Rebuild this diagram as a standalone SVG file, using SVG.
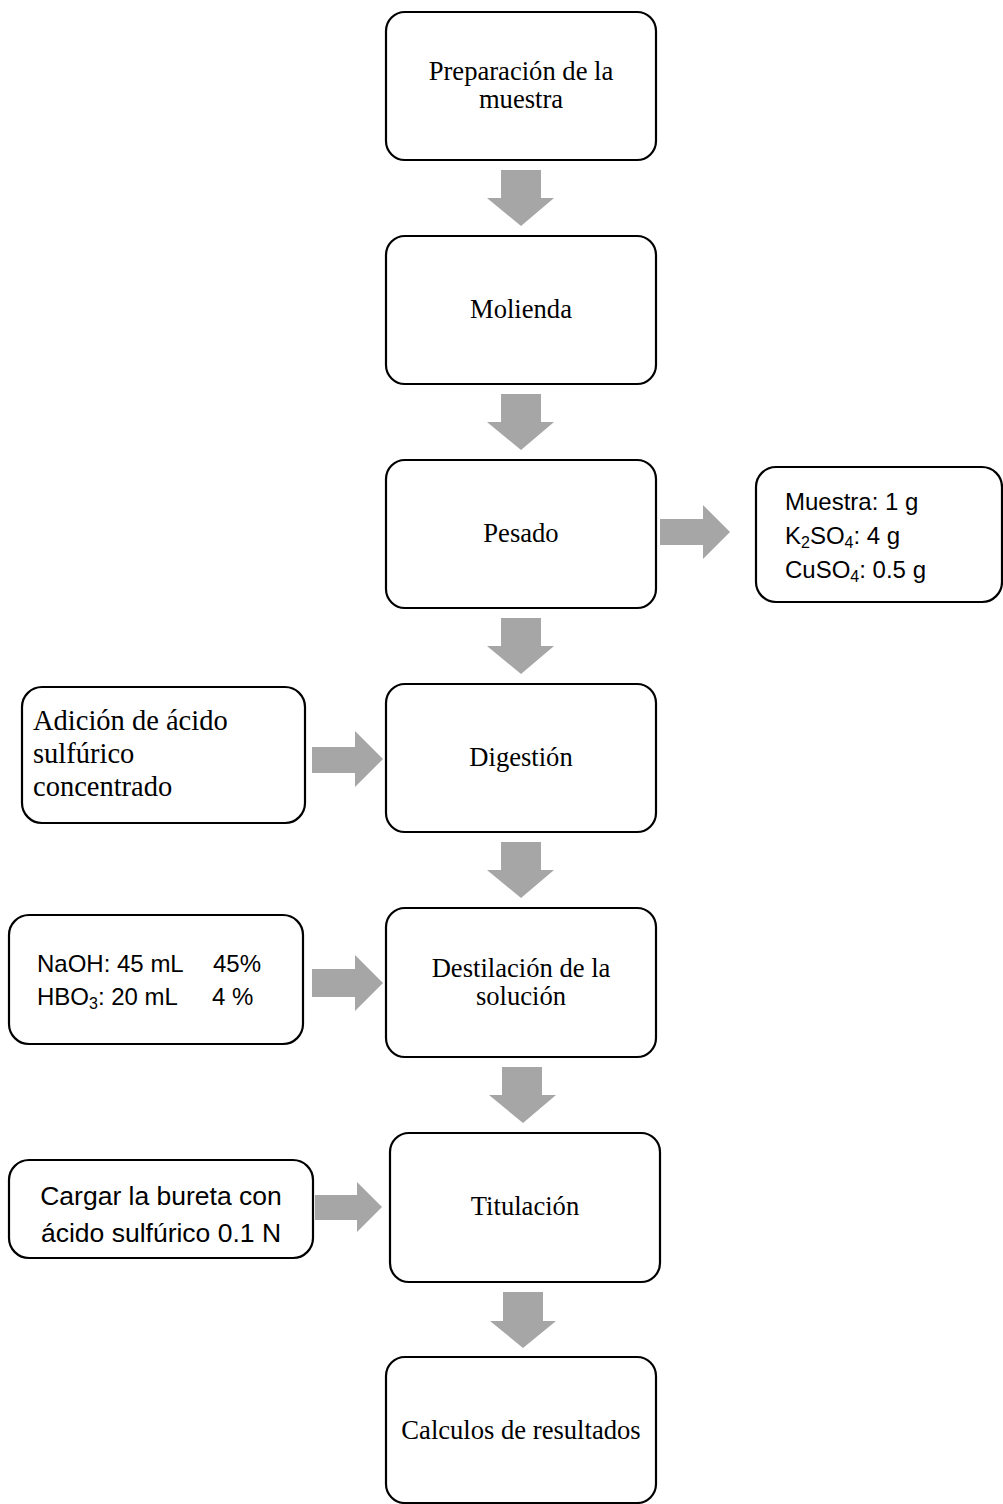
<svg xmlns="http://www.w3.org/2000/svg" width="1003" height="1504" viewBox="0 0 1003 1504">
  <style>
    .box { fill: #ffffff; stroke: #000000; stroke-width: 2.2; }
    .serif { font-family: "Liberation Serif", "Times New Roman", serif; font-size: 26.6px; fill: #000000; }
    .serif-lg { font-family: "Liberation Serif", "Times New Roman", serif; font-size: 28.5px; fill: #000000; }
    .sans { font-family: "Liberation Sans", Arial, sans-serif; font-size: 24px; fill: #000000; }
    .sans-lg { font-family: "Liberation Sans", Arial, sans-serif; font-size: 26.5px; fill: #000000; }
    .mid { text-anchor: middle; }
    .arrow { fill: #a6a6a6; }
  </style>
  <rect width="1003" height="1504" fill="#ffffff"/>

  <!-- block arrows between steps -->
  <g id="connectors">
    <polygon class="arrow" points="501,170 541,170 541,198 554,198 521,226 487,198 501,198"/>
    <polygon class="arrow" points="501,394 541,394 541,422 554,422 521,450 487,422 501,422"/>
    <polygon class="arrow" points="501,618 541,618 541,646 554,646 521,674 487,646 501,646"/>
    <polygon class="arrow" points="501,842 541,842 541,870 554,870 521,898 487,870 501,870"/>
    <polygon class="arrow" points="502,1067 542,1067 542,1095 556,1095 523,1123 489,1095 502,1095"/>
    <polygon class="arrow" points="503,1292 543,1292 543,1321 556,1321 523,1348 490,1321 503,1321"/>
    <polygon class="arrow" points="660,519 703,519 703,505 730,532 703,559 703,545 660,545"/>
    <polygon class="arrow" points="312,747 355,747 355,731 383,759 355,787 355,773 312,773"/>
    <polygon class="arrow" points="312,969 355,969 355,955 383,983 355,1011 355,997 312,997"/>
    <polygon class="arrow" points="315,1195 357,1195 357,1182 382,1207 357,1232 357,1220 315,1220"/>
  </g>

  <g id="preparacion">
    <rect class="box" x="386" y="12" width="270" height="148" rx="19"/>
    <text class="serif mid" x="521" y="80">Preparación de la</text>
    <text class="serif mid" x="521" y="108">muestra</text>
  </g>

  <g id="molienda">
    <rect class="box" x="386" y="236" width="270" height="148" rx="19"/>
    <text class="serif mid" x="521" y="318">Molienda</text>
  </g>

  <g id="pesado">
    <rect class="box" x="386" y="460" width="270" height="148" rx="19"/>
    <text class="serif mid" x="521" y="542">Pesado</text>
  </g>

  <g id="reactivos">
    <rect class="box" x="756" y="467" width="246" height="135" rx="20"/>
    <text class="sans" x="785" y="510">Muestra: 1 g</text>
    <text class="sans" x="785" y="544">K<tspan font-size="16" dy="4">2</tspan><tspan dy="-4">SO</tspan><tspan font-size="16" dy="4">4</tspan><tspan dy="-4">: 4 g</tspan></text>
    <text class="sans" x="785" y="578">CuSO<tspan font-size="16" dy="4">4</tspan><tspan dy="-4">: 0.5 g</tspan></text>
  </g>

  <g id="digestion">
    <rect class="box" x="386" y="684" width="270" height="148" rx="19"/>
    <text class="serif mid" x="521" y="766">Digestión</text>
  </g>

  <g id="adicion-acido">
    <rect class="box" x="22" y="687" width="283" height="136" rx="20"/>
    <text class="serif-lg" x="33" y="730">Adición de ácido</text>
    <text class="serif-lg" x="33" y="763">sulfúrico</text>
    <text class="serif-lg" x="33" y="796">concentrado</text>
  </g>

  <g id="destilacion">
    <rect class="box" x="386" y="908" width="270" height="149" rx="19"/>
    <text class="serif mid" x="521" y="977">Destilación de la</text>
    <text class="serif mid" x="521" y="1005">solución</text>
  </g>

  <g id="soluciones">
    <rect class="box" x="9" y="915" width="294" height="129" rx="20"/>
    <text class="sans" x="37" y="972">NaOH: 45 mL</text>
    <text class="sans" x="213" y="972">45%</text>
    <text class="sans" x="37" y="1005">HBO<tspan font-size="16" dy="4">3</tspan><tspan dy="-4">: 20 mL</tspan></text>
    <text class="sans" x="212" y="1005">4 %</text>
  </g>

  <g id="titulacion">
    <rect class="box" x="390" y="1133" width="270" height="149" rx="19"/>
    <text class="serif mid" x="525" y="1215">Titulación</text>
  </g>

  <g id="bureta">
    <rect class="box" x="9" y="1160" width="304" height="98" rx="20"/>
    <text class="sans-lg mid" x="161" y="1205">Cargar la bureta con</text>
    <text class="sans-lg mid" x="161" y="1242">ácido sulfúrico 0.1 N</text>
  </g>

  <g id="calculos">
    <rect class="box" x="386" y="1357" width="270" height="146" rx="19"/>
    <text class="serif mid" x="521" y="1439">Calculos de resultados</text>
  </g>
</svg>
